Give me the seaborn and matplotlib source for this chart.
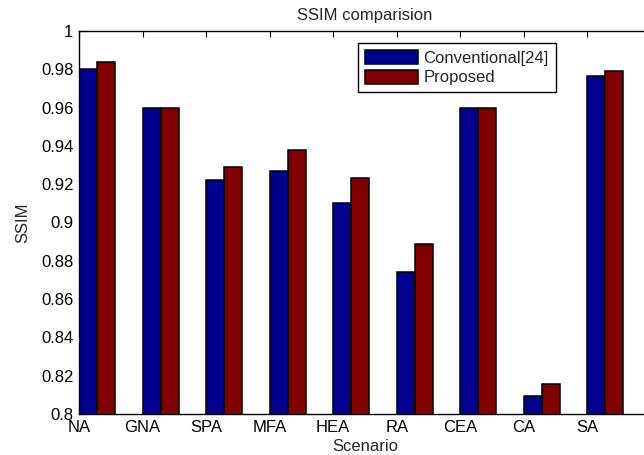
import matplotlib
matplotlib.use("Agg")
import matplotlib.pyplot as plt
import seaborn as sns
import pandas as pd

# Attack scenarios and SSIM scores for the two watermarking schemes
scenarios = ["NA", "GNA", "SPA", "MFA", "HEA", "RA", "CEA", "CA", "SA"]
conventional = [0.980, 0.960, 0.922, 0.927, 0.910, 0.874, 0.960, 0.8095, 0.9767]
proposed = [0.984, 0.960, 0.929, 0.938, 0.923, 0.889, 0.960, 0.8157, 0.979]
series_names = ["Conventional[24]", "Proposed"]
yticks = [0.8, 0.82, 0.84, 0.86, 0.88, 0.9, 0.92, 0.94, 0.96, 0.98, 1]
ytick_labels = ["0.8", "0.82", "0.84", "0.86", "0.88", "0.9", "0.92", "0.94", "0.96", "0.98", "1"]

df = pd.DataFrame({
    "Scenario": scenarios * 2,
    "SSIM": conventional + proposed,
    "Method": [series_names[0]] * len(scenarios) + [series_names[1]] * len(scenarios),
})

sns.set_style("white")
plt.rcParams["font.family"] = ["Liberation Sans", "DejaVu Sans"]
plt.rcParams["font.size"] = 12

fig = plt.figure(figsize=(6.44, 4.55), dpi=100)
ax = fig.add_axes([0.1227, 0.0901, 0.888, 0.8418])

group_w = 0.566
sns.barplot(
    data=df, x="Scenario", y="SSIM", hue="Method",
    palette=["#00008F", "#800000"], saturation=1, width=group_w,
    edgecolor="black", linewidth=1.1, ax=ax, errorbar=None,
)

# ticks sit at the left edge of each pair of bars
off = group_w / 2
ax.set_xticks([i - off for i in range(len(scenarios))])
ax.set_xticklabels(scenarios)
ax.set_xlim(-off, len(scenarios) - off)
ax.set_ylim(0.8, 1.0)
ax.set_yticks(yticks)
ax.set_yticklabels(ytick_labels)

ax.tick_params(axis="both", direction="in", length=4, width=0.8, colors="black",
               top=True, right=True, bottom=True, left=True, labelsize=12)
ax.tick_params(axis="y", pad=4)
ax.tick_params(axis="x", pad=4)

for s in ax.spines.values():
    s.set_visible(True)
    s.set_color("black")
    s.set_linewidth(1.0)

ax.set_title("SSIM comparision", fontsize=12, pad=8)
ax.set_xlabel("Scenario", fontsize=12, labelpad=3)
ax.set_ylabel("SSIM", fontsize=12, labelpad=8)

leg = ax.legend(
    loc="upper left", bbox_to_anchor=(0.488, 0.969), fancybox=False,
    edgecolor="black", framealpha=1, fontsize=12, handlelength=3.2,
    handleheight=0.9, handletextpad=0.3, borderpad=0.42, labelspacing=0.25,
    borderaxespad=0,
)
leg.get_frame().set_linewidth(1.0)

fig.savefig("out.png", dpi=100)
